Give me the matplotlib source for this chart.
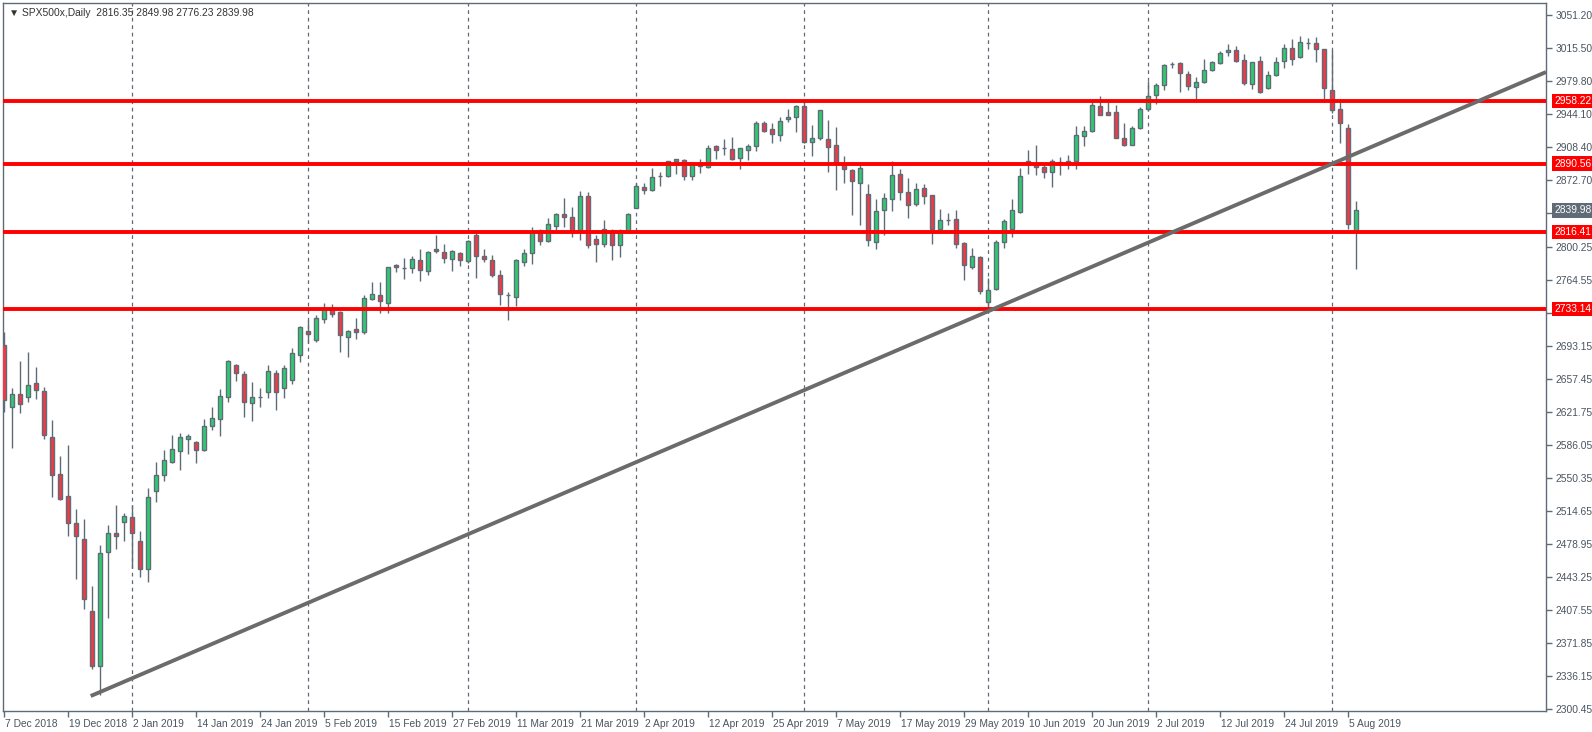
import matplotlib
matplotlib.use("Agg")
import matplotlib.pyplot as plt
import matplotlib.transforms as mtransforms
import numpy as np

opens = [2694.2,2627.1,2641.2,2637.9,2653.1,2644.4,2594.7,2554.6,2530.8,2501.6,2484.3,2406.4,2346.9,2470.3,2490.8,2502.7,2508.1,2482.1,2451.9,2536.2,
         2553.5,2567.6,2579.5,2592.5,2589.3,2580.3,2606.5,2614.1,2637.9,2672.6,2662.8,2631.4,2637.5,2643.3,2663.9,2647.7,2656.3,2683.4,2709.3,2699.6,
         2722.3,2734.2,2729.9,2702.8,2711.5,2708.2,2743.9,2748.3,2739.6,2780.7,2777.5,2777.5,2786.1,2774.2,2798.0,2794.8,2787.2,2793.7,2785.0,2813.2,
         2790.5,2786.1,2769.9,2748.3,2746.1,2784.0,2793.7,2815.3,2806.7,2822.9,2835.9,2832.6,2818.6,2855.4,2808.9,2803.4,2817.5,2802.4,2816.4,2842.4,
         2865.1,2861.9,2877.0,2877.0,2893.3,2894.3,2877.0,2891.1,2886.7,2909.5,2907.3,2906.2,2896.5,2905.1,2909.5,2934.3,2927.8,2921.4,2938.7,2940.8,
         2952.7,2913.8,2918.1,2917.0,2910.5,2890.0,2883.5,2869.4,2857.5,2805.6,2840.2,2852.1,2879.2,2859.7,2846.7,2864.0,2856.4,2819.7,2829.4,2830.5,
         2804.5,2778.6,2789.4,2740.7,2754.8,2805.6,2819.7,2838.1,2893.2,2890.0,2886.7,2881.3,2890.0,2890.0,2893.2,2920.3,2925.7,2952.7,2946.2,2946.2,
         2918.1,2910.5,2928.9,2949.5,2964.6,2975.4,2998.0,2999.2,2987.3,2973.3,2978.7,2991.7,2999.2,3011.1,3013.3,3002.5,2976.5,3001.4,2972.2,2986.3,
         3001.4,3015.5,3005.7,3020.9,3020.9,3014.4,2970.0,2949.5,2928.9,2816.35]
highs = [2708.2,2647.7,2676.9,2686.6,2670.4,2648.7,2613.0,2574.1,2586.0,2516.8,2506.0,2433.5,2477.8,2499.5,2521.1,2512.4,2521.1,2493.0,2539.5,2567.6,
         2580.6,2596.8,2599.0,2597.9,2590.4,2614.1,2627.1,2646.6,2678.0,2673.6,2666.1,2654.1,2647.7,2672.6,2667.1,2672.6,2691.0,2714.7,2721.2,2726.6,
         2739.6,2738.5,2731.0,2710.4,2723.4,2748.3,2762.3,2762.3,2778.6,2781.8,2788.3,2790.5,2798.0,2795.9,2813.2,2803.4,2797.0,2794.8,2807.8,2818.6,
         2798.0,2791.5,2775.3,2751.5,2787.2,2798.0,2821.8,2819.7,2831.6,2836.5,2853.2,2843.5,2860.8,2859.7,2813.2,2829.4,2819.7,2819.7,2837.0,2869.4,
         2869.4,2885.6,2881.3,2893.6,2895.6,2895.4,2891.3,2895.4,2910.5,2910.5,2917.0,2919.2,2907.5,2911.6,2936.5,2936.5,2934.3,2940.8,2949.5,2953.8,
         2959.2,2932.2,2948.6,2937.6,2930.0,2898.6,2884.6,2892.1,2868.4,2852.1,2858.6,2893.2,2884.6,2874.8,2869.4,2868.4,2856.5,2841.3,2837.0,2840.2,
         2805.6,2799.1,2790.5,2766.7,2807.8,2830.5,2852.1,2885.6,2905.1,2910.5,2890.0,2895.4,2897.6,2899.7,2931.1,2931.1,2959.2,2963.5,2957.1,2953.8,
         2934.3,2931.1,2951.6,2979.8,2977.6,2998.2,3000.3,3000.3,2990.6,2984.1,3003.6,3001.4,3012.2,3019.8,3017.6,3009.0,3000.5,3006.8,2990.6,3005.7,
         3019.8,3025.2,3028.5,3026.3,3027.4,3014.6,3013.3,2960.3,2933.3,2849.98]
lows = [2621.7,2582.8,2620.6,2632.5,2635.8,2592.5,2529.8,2527.0,2487.6,2441.0,2408.6,2343.7,2315.5,2398.9,2473.5,2482.1,2452.9,2443.2,2437.8,2524.3,
        2547.1,2567.1,2559.0,2576.3,2566.5,2579.5,2602.2,2595.8,2632.5,2655.3,2616.3,2612.0,2627.1,2636.8,2623.9,2636.8,2652.0,2675.8,2696.3,2697.4,
        2718.0,2724.5,2686.6,2681.2,2700.7,2706.1,2742.9,2728.8,2728.8,2773.2,2765.6,2772.1,2763.4,2769.9,2793.7,2782.9,2774.2,2779.6,2782.9,2766.7,
        2784.0,2767.8,2737.5,2721.2,2736.4,2779.6,2781.8,2802.4,2805.5,2816.4,2821.8,2811.0,2807.8,2799.1,2784.0,2800.2,2786.1,2789.4,2815.3,2842.5,
        2857.5,2860.8,2866.2,2875.9,2879.2,2872.7,2872.7,2880.2,2885.6,2895.4,2899.7,2894.3,2884.6,2894.3,2904.0,2924.6,2912.7,2914.9,2935.4,2924.6,
        2912.7,2898.6,2915.9,2881.3,2861.9,2869.4,2834.8,2824.0,2801.3,2798.0,2813.2,2839.1,2851.0,2831.6,2844.5,2846.7,2803.4,2817.5,2824.0,2799.1,
        2764.5,2776.4,2749.4,2732.0,2753.7,2799.1,2811.0,2837.0,2879.2,2878.1,2874.8,2865.1,2878.1,2884.6,2884.6,2909.5,2925.0,2942.8,2942.8,2917.9,
        2909.5,2910.3,2927.8,2947.3,2954.9,2970.0,2993.8,2967.9,2970.0,2959.2,2977.6,2990.6,2998.2,3006.8,3000.3,2975.4,2971.1,2966.8,2971.1,2985.2,
        2993.8,2997.1,3004.7,3014.4,3000.3,2957.1,2945.2,2912.7,2819.7,2776.23]
closes = [2634.7,2641.2,2630.4,2650.9,2645.5,2596.8,2553.5,2527.6,2501.6,2487.6,2419.4,2346.9,2469.2,2490.8,2487.6,2509.4,2490.8,2451.9,2529.7,2553.5,
          2569.8,2581.7,2594.7,2595.8,2580.6,2606.5,2615.2,2639.0,2676.9,2663.9,2632.5,2637.9,2638.0,2666.1,2643.3,2669.3,2685.5,2713.7,2706.1,2723.4,
          2733.1,2727.7,2705.0,2709.3,2708.2,2745.0,2749.4,2741.8,2778.6,2778.6,2777.0,2787.2,2775.3,2794.8,2795.9,2788.3,2795.9,2786.1,2806.7,2790.5,
          2787.2,2769.9,2749.4,2748.6,2786.1,2793.7,2816.4,2806.7,2825.1,2835.9,2832.6,2817.5,2855.4,2802.4,2803.4,2819.7,2802.4,2817.5,2835.9,2866.2,
          2861.9,2875.9,2877.3,2893.3,2895.4,2877.0,2891.1,2887.8,2907.3,2905.1,2907.0,2895.4,2907.3,2909.5,2934.3,2925.7,2922.4,2936.5,2940.8,2952.7,
          2913.8,2918.1,2948.4,2908.4,2891.1,2884.6,2871.6,2885.6,2807.8,2839.1,2853.2,2878.1,2859.7,2845.6,2863.0,2855.4,2819.7,2829.4,2829.1,2803.4,
          2780.7,2790.5,2752.6,2753.7,2805.6,2828.3,2840.2,2877.0,2890.0,2886.7,2881.3,2893.2,2892.1,2893.2,2921.4,2925.7,2953.8,2943.0,2943.0,2918.1,
          2910.5,2928.9,2949.5,2963.5,2975.4,2997.1,2998.2,2988.4,2974.4,2978.7,2991.7,3000.3,3010.1,3013.3,3001.4,2977.6,3000.3,2967.9,2986.3,3000.3,
          3015.5,3003.6,3022.0,3021.2,3014.4,2972.2,2948.4,2934.3,2825.1,2839.98]

x_labels = ["7 Dec 2018","19 Dec 2018","2 Jan 2019","14 Jan 2019","24 Jan 2019","5 Feb 2019","15 Feb 2019",
            "27 Feb 2019","11 Mar 2019","21 Mar 2019","2 Apr 2019","12 Apr 2019","25 Apr 2019","7 May 2019",
            "17 May 2019","29 May 2019","10 Jun 2019","20 Jun 2019","2 Jul 2019","12 Jul 2019","24 Jul 2019","5 Aug 2019"]
month_starts = [16, 38, 58, 79, 100, 123, 143, 166]
y_ticks = [3051.20,3015.50,2979.80,2944.10,2908.40,2872.70,2836.55,2800.25,2764.55,2728.85,2693.15,2657.45,
           2621.75,2586.05,2550.35,2514.65,2478.95,2443.25,2407.55,2371.85,2336.15,2300.45]
hidden_ticks = [2836.55, 2728.85]   # covered by price boxes in the reference
levels = [2958.22, 2890.56, 2816.41, 2733.14]
trend_x = [10.84, 192.75]
trend_y = [2314.5, 2989.5]
last_price = 2839.98

W, H = 1592, 732
fig = plt.figure(figsize=(W/100, H/100), dpi=100)
fig.patch.set_facecolor("white")
ax = fig.add_axes([2.7/W, 1-711/H, (1546-2.7)/W, 708/H])
ax.set_xlim(-0.16, 192.75)
ax.set_ylim(2298.3, 3064.2)

font = "Liberation Sans"
gray = "#5f6c77"
txtc = "#4a5560"

for m in month_starts:
    ax.axvline(m, color=gray, lw=0.9, ls=(0, (3, 3)), zorder=1)

o = np.array(opens); c = np.array(closes); h = np.array(highs); l = np.array(lows)
idx = np.arange(len(o))
ax.vlines(idx, l, h, color=gray, lw=1.0, zorder=3)
up = c >= o
colors = np.where(up, "#2ecc71", "#ef3a47")
bottom = np.minimum(o, c)
height = np.maximum(np.abs(c - o), 0.4)
ax.bar(idx, height, bottom=bottom, width=0.62, color=colors, edgecolor=gray, linewidth=1.0, zorder=4)

for lv in levels:
    ax.axhline(lv, color="#ff0000", lw=2.8, zorder=5)
ax.plot(trend_x, trend_y, color="#6b6b6b", lw=2.8, zorder=5, solid_capstyle="butt")

for s in ["top", "right", "left", "bottom"]:
    ax.spines[s].set_color(gray)
    ax.spines[s].set_linewidth(1.0)

ax.yaxis.tick_right()
ax.set_yticks(y_ticks)
ax.set_yticklabels(["" if v in hidden_ticks else f"{v:.2f}" for v in y_ticks],
                   fontsize=7.4, color=txtc, fontfamily=font)
ax.tick_params(axis="y", direction="out", length=4, width=1, color=gray, pad=3)
ax.set_xticks(np.arange(0, 169, 8))
ax.set_xticklabels(x_labels, fontsize=7.4, color=txtc, fontfamily=font, ha="left")
ax.tick_params(axis="x", direction="out", length=4, width=1, color=gray, pad=2)
for t in ax.get_xticklabels():
    t.set_transform(t.get_transform() + mtransforms.ScaledTranslation(1/100, 0, fig.dpi_scale_trans))

tr = mtransforms.blended_transform_factory(ax.transAxes, ax.transData)
for lv in levels:
    ax.text(1.0055, lv, f"{lv:.2f}", transform=tr, fontsize=7.4, color="white", fontfamily=font,
            va="center", ha="left", clip_on=False, zorder=10,
            bbox=dict(boxstyle="square,pad=0.22", fc="#ff0000", ec="none"))
ax.text(1.0055, last_price, f"{last_price:.2f}", transform=tr, fontsize=7.4, color="white", fontfamily=font,
        va="center", ha="left", clip_on=False, zorder=10,
        bbox=dict(boxstyle="square,pad=0.22", fc="#5f6c77", ec="none"))

ax.text(0.004, 0.993, "\u25BC SPX500x,Daily  2816.35 2849.98 2776.23 2839.98", transform=ax.transAxes,
        fontsize=7.4, color="#333333", fontfamily=font, va="top", ha="left", zorder=10)

fig.savefig("out.png", dpi=100, facecolor="white")
